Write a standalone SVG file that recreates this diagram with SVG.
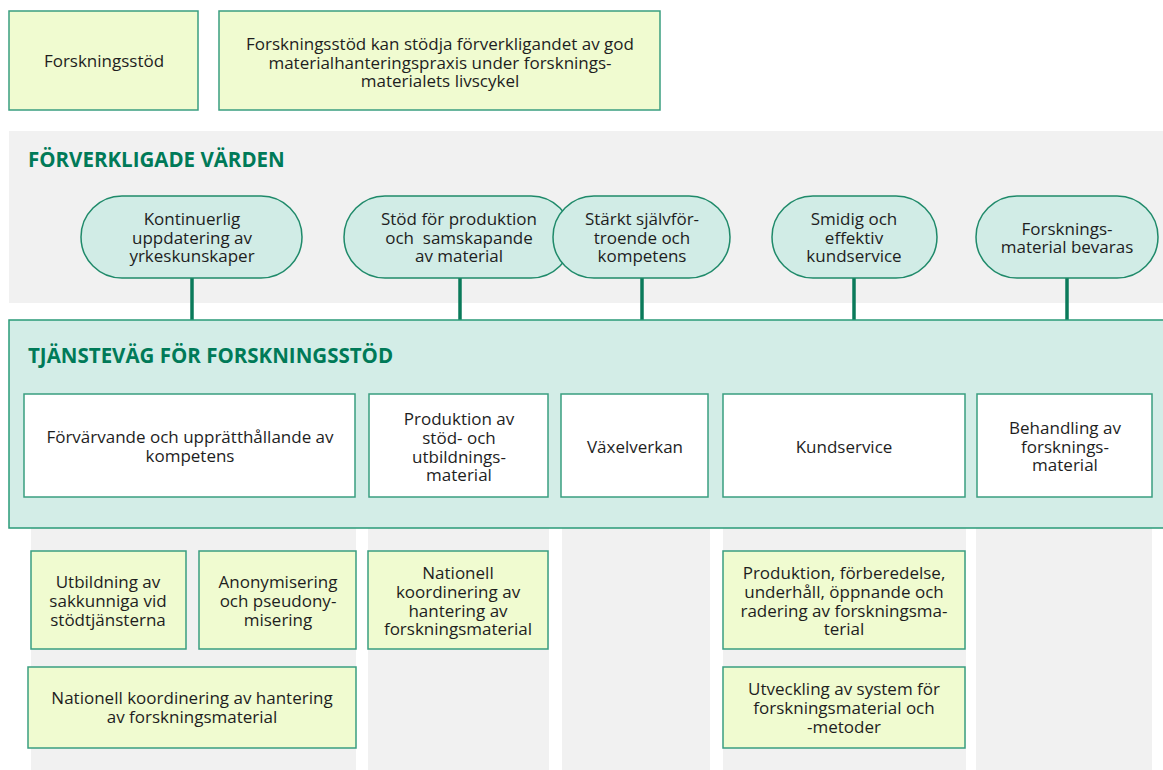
<svg xmlns="http://www.w3.org/2000/svg" width="1163" height="770" viewBox="0 0 1163 770">
<style>
text{font-family:"Open Sans","Noto Sans","Liberation Sans",sans-serif;font-size:17px;fill:#1e1e1e;text-anchor:middle}
.ttl{font-weight:bold;font-size:20.5px;fill:#007a58;text-anchor:start}
.yel{fill:#f0fbd0;stroke:#3a9e80;stroke-width:1.5}
.wht{fill:#ffffff;stroke:#3a9e80;stroke-width:1.5}
.pill{fill:#d1ece6;stroke:#1f8a6a;stroke-width:1.5}
.gry{fill:#f1f1f1}
.con{stroke:#0a7a5a;stroke-width:3.5;fill:none}
</style>
<rect width="1163" height="770" fill="#ffffff"/>
<g id="backgrounds">
<rect class="gry" x="9" y="131" width="1154" height="172"/>
<rect class="gry" x="31" y="528" width="325" height="242"/>
<rect class="gry" x="368" y="528" width="181" height="242"/>
<rect class="gry" x="562" y="528" width="148" height="242"/>
<rect class="gry" x="723" y="528" width="243" height="242"/>
<rect class="gry" x="976" y="528" width="176" height="242"/>
</g>
<g id="connectors">
<line class="con" x1="192" y1="278" x2="192" y2="320"/>
<line class="con" x1="460" y1="278" x2="460" y2="320"/>
<line class="con" x1="642" y1="278" x2="642" y2="320"/>
<line class="con" x1="854" y1="278" x2="854" y2="320"/>
<line class="con" x1="1067" y1="278" x2="1067" y2="320"/>
</g>
<g id="legend1"><rect class="yel" x="9" y="11" width="189" height="99"/><text x="104" y="67">Forskningsstöd</text></g>
<g id="legend2"><rect class="yel" x="219" y="11" width="441" height="99"/><text x="440" y="50">Forskningsstöd kan stödja förverkligandet av god</text><text x="440" y="69">materialhanteringspraxis under forsknings-</text><text x="440" y="87">materialets livscykel</text></g>
<g id="values-title"><text class="ttl" x="28" y="167">FÖRVERKLIGADE VÄRDEN</text></g>
<g id="v1"><rect class="pill" x="81" y="196" width="221" height="82" rx="41"/><text x="192" y="225">Kontinuerlig</text><text x="192" y="244">uppdatering av</text><text x="192" y="262">yrkeskunskaper</text></g>
<g id="v2"><rect class="pill" x="344" y="196" width="228" height="82" rx="41"/><text x="459" y="225">Stöd för produktion</text><text x="459" y="244" xml:space="preserve">och  samskapande</text><text x="459" y="262">av material</text></g>
<g id="v3"><rect class="pill" x="553" y="196" width="177" height="82" rx="41"/><text x="642" y="225">Stärkt självför-</text><text x="642" y="244">troende och</text><text x="642" y="262">kompetens</text></g>
<g id="v4"><rect class="pill" x="772" y="196" width="165" height="82" rx="41"/><text x="854" y="225">Smidig och</text><text x="854" y="244">effektiv</text><text x="854" y="262">kundservice</text></g>
<g id="v5"><rect class="pill" x="976" y="196" width="182" height="82" rx="41"/><text x="1067" y="235">Forsknings-</text><text x="1067" y="253">material bevaras</text></g>
<g id="service-path"><rect x="9" y="320" width="1160" height="208" fill="#d3ede7" stroke="#2a9a78" stroke-width="1.5"/><text class="ttl" x="28" y="363">TJÄNSTEVÄG FÖR FORSKNINGSSTÖD</text></g>
<g id="s1"><rect class="wht" x="24" y="394" width="331" height="103"/><text x="190" y="443">Förvärvande och upprätthållande av</text><text x="190" y="462">kompetens</text></g>
<g id="s2"><rect class="wht" x="369" y="394" width="179" height="103"/><text x="459" y="425">Produktion av</text><text x="459" y="444">stöd- och</text><text x="459" y="463">utbildnings-</text><text x="459" y="481">material</text></g>
<g id="s3"><rect class="wht" x="561" y="394" width="147" height="103"/><text x="635" y="453">Växelverkan</text></g>
<g id="s4"><rect class="wht" x="723" y="394" width="242" height="103"/><text x="844" y="453">Kundservice</text></g>
<g id="s5"><rect class="wht" x="977" y="394" width="175" height="103"/><text x="1065" y="434">Behandling av</text><text x="1065" y="453">forsknings-</text><text x="1065" y="471">material</text></g>
<g id="a1"><rect class="yel" x="31" y="551" width="155" height="98"/><text x="108" y="588">Utbildning av</text><text x="108" y="607">sakkunniga vid</text><text x="108" y="626">stödtjänsterna</text></g>
<g id="a2"><rect class="yel" x="199" y="551" width="157" height="98"/><text x="278" y="588">Anonymisering</text><text x="278" y="607">och pseudony-</text><text x="278" y="626">misering</text></g>
<g id="a3"><rect class="yel" x="368" y="551" width="180" height="98"/><text x="458" y="579">Nationell</text><text x="458" y="598">koordinering av</text><text x="458" y="617">hantering av</text><text x="458" y="635">forskningsmaterial</text></g>
<g id="a4"><rect class="yel" x="28" y="667" width="328" height="81"/><text x="192" y="704">Nationell koordinering av hantering</text><text x="192" y="723">av forskningsmaterial</text></g>
<g id="a5"><rect class="yel" x="723" y="551" width="242" height="98"/><text x="844" y="579">Produktion, förberedelse,</text><text x="844" y="598">underhåll, öppnande och</text><text x="844" y="617">radering av forskningsma-</text><text x="844" y="635">terial</text></g>
<g id="a6"><rect class="yel" x="723" y="667" width="242" height="81"/><text x="844" y="695">Utveckling av system för</text><text x="844" y="714">forskningsmaterial och</text><text x="844" y="733">-metoder</text></g>
</svg>
